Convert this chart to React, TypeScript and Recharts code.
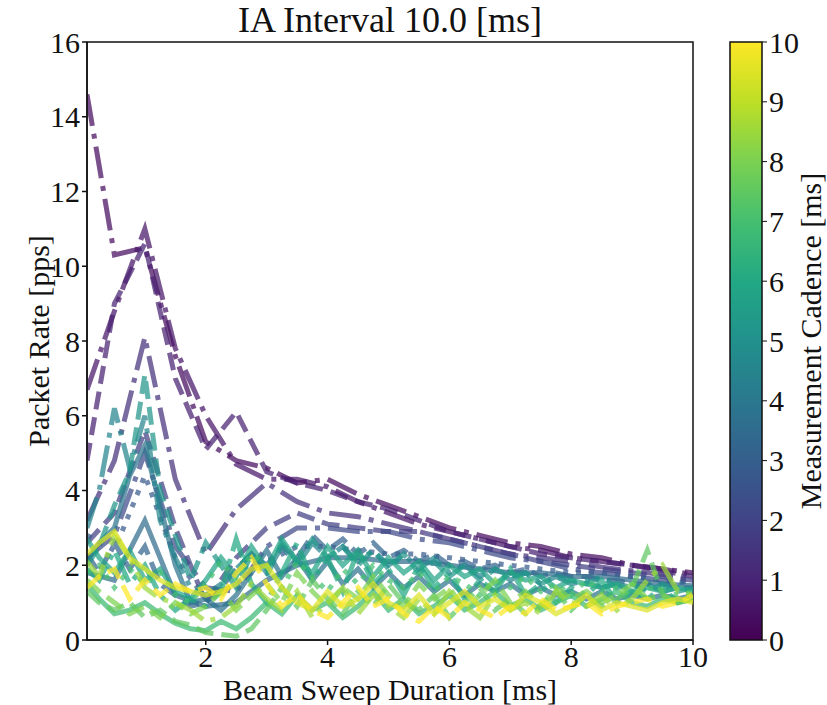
import React from 'react';
import { LineChart, Line, XAxis, YAxis, ReferenceArea, ComposedChart } from 'recharts';

// beam sweep durations (ms) - coarse grid for smooth series, fine grid for noisy ones
const X_COARSE = [0.05, 0.5, 1, 1.5, 2, 2.5, 3, 3.5, 4, 4.5, 5, 5.5, 6, 6.5, 7, 7.5, 8, 8.5, 9, 9.5, 10];
const X_FINE = [
  0.05, 0.25, 0.5, 0.75, 1, 1.25, 1.5, 1.75, 2, 2.25,
  2.5, 2.75, 3, 3.25, 3.5, 3.75, 4, 4.25, 4.5, 4.75,
  5, 5.25, 5.5, 5.75, 6, 6.25, 6.5, 6.75, 7, 7.25,
  7.5, 7.75, 8, 8.25, 8.5, 8.75, 9, 9.25, 9.5, 9.75,
  10,
];

const X_TICKS = [2, 4, 6, 8, 10];
const Y_TICKS = [0, 2, 4, 6, 8, 10, 12, 14, 16];
const CADENCE_TICKS = [0, 1, 2, 3, 4, 5, 6, 7, 8, 9, 10];
const CADENCE_RANGE = [0, 10];

// packet rate (pps) per measurement cadence
const rate_c03 = [14.6, 10.3, 10.5, 7.6, 5.3, 4.8, 4.6, 4.2, 4.3, 3.9, 3.6, 3.3, 3.0, 2.8, 2.6, 2.5, 2.3, 2.2, 2.0, 1.9, 1.8];
const rate_c06 = [6.7, 8.8, 11.0, 7.8, 6.0, 4.7, 4.3, 4.3, 4.1, 3.7, 3.4, 3.1, 2.9, 2.7, 2.5, 2.4, 2.2, 2.1, 2.0, 1.9, 1.75];
const rate_c09 = [4.8, 9.0, 10.6, 7.0, 5.1, 6.1, 4.5, 4.2, 4.0, 3.7, 3.5, 3.2, 2.9, 2.7, 2.5, 2.3, 2.2, 2.1, 2.0, 1.85, 1.7];
const rate_c14 = [3.2, 4.8, 8.1, 4.3, 2.3, 3.5, 4.2, 3.7, 3.4, 3.3, 3.1, 2.9, 2.7, 2.5, 2.3, 2.2, 2.1, 1.95, 1.85, 1.75, 1.65];
const rate_c18 = [2.6, 3.4, 5.6, 3.0, 1.0, 2.2, 3.0, 3.4, 3.1, 3.0, 2.9, 2.9, 2.7, 2.5, 2.3, 2.1, 2.0, 1.9, 1.8, 1.7, 1.6];
const rate_c22 = [2.2, 2.8, 5.0, 2.5, 1.4, 1.3, 2.5, 3.0, 3.0, 2.9, 2.9, 2.7, 2.6, 2.4, 2.2, 2.1, 1.9, 1.8, 1.7, 1.6, 1.55];
const rate_c28 = [2.8, 2.4, 4.4, 2.2, 1.1, 1.5, 2.1, 2.5, 2.5, 2.4, 2.3, 2.3, 2.2, 2.1, 2.0, 1.9, 1.8, 1.8, 1.7, 1.6, 1.5];
const rate_c35 = [1.8, 1.6, 3.2, 1.2, 0.9, 1.0, 1.6, 2.0, 2.2, 2.2, 2.1, 2.1, 2.0, 1.9, 1.8, 1.8, 1.7, 1.7, 1.6, 1.5, 1.45];

const rate_c32 = [
  2.3, 1.8, 2.6, 1.9, 2.5, 1.5, 1.2, 0.9, 1.0, 1.4,
  1.9, 2.3, 2.0, 2.5, 2.2, 2.8, 2.4, 2.7, 2.3, 2.6,
  2.2, 2.4, 2.1, 2.3, 2.0, 2.1, 1.9, 2.0, 1.8, 1.9,
  1.7, 1.8, 1.7, 1.7, 1.6, 1.6, 1.5, 1.5, 1.5, 1.4,
  1.4,
];
const rate_c38 = [
  2.1, 2.6, 3.0, 4.4, 5.2, 3.6, 2.0, 1.0, 1.1, 0.8,
  1.2, 1.8, 2.4, 1.7, 2.2, 1.6, 2.1, 1.5, 1.9, 1.4,
  1.8, 1.4, 1.7, 1.3, 1.6, 1.2, 1.5, 1.3, 1.5, 1.2,
  1.4, 1.2, 1.3, 1.1, 1.3, 1.1, 1.2, 1.1, 1.2, 1.1,
  1.2,
];
const rate_c45 = [
  3.0, 4.0, 6.2, 4.6, 6.0, 3.2, 2.2, 1.4, 1.2, 1.5,
  1.9, 2.3, 1.8, 2.5, 2.0, 2.6, 2.2, 2.5, 2.1, 2.4,
  2.0, 2.3, 1.9, 2.2, 1.8, 2.0, 1.7, 1.9, 1.6, 1.8,
  1.5, 1.7, 1.5, 1.6, 1.4, 1.5, 1.4, 1.5, 1.3, 1.4,
  1.3,
];
const rate_c52 = [
  2.0, 2.5, 3.6, 4.5, 7.1, 4.0, 2.8, 1.6, 2.6, 2.0,
  1.4, 2.3, 1.7, 2.6, 2.1, 2.7, 2.2, 2.5, 2.0, 2.4,
  1.9, 2.3, 1.8, 2.1, 1.7, 2.0, 1.6, 1.9, 1.7, 1.8,
  1.5, 1.7, 1.6, 1.5, 1.7, 1.4, 1.5, 1.3, 1.5, 1.3,
  1.4,
];
const rate_c58 = [
  2.7, 2.2, 1.8, 2.4, 1.6, 1.9, 1.3, 1.1, 1.6, 2.2,
  1.7, 2.5, 1.9, 2.7, 2.1, 1.8, 2.5, 2.0, 2.4, 1.7,
  2.2, 1.8, 2.1, 1.6, 2.0, 1.7, 1.9, 1.5, 1.8, 1.6,
  1.7, 1.4, 1.6, 1.5, 1.4, 1.5, 1.3, 1.4, 1.3, 1.4,
  1.3,
];
const rate_c60 = [
  1.9, 1.6, 2.4, 1.5, 2.0, 1.2, 0.8, 1.1, 0.9, 1.3,
  2.7, 1.5, 1.0, 1.8, 2.6, 1.6, 2.2, 1.3, 2.4, 1.5,
  1.9, 1.2, 2.0, 1.4, 1.8, 1.1, 1.6, 1.3, 1.9, 1.2,
  1.5, 1.0, 1.4, 1.2, 1.6, 1.0, 1.3, 1.1, 1.4, 1.0,
  1.2,
];
const rate_c68 = [
  1.5, 1.1, 0.7, 0.8, 1.0, 0.7, 0.45, 0.3, 0.25, 0.5,
  0.3, 0.6, 1.0, 0.7, 1.2, 0.8, 1.0, 0.6, 0.9, 1.3,
  0.8, 1.1, 0.7, 0.9, 1.2, 0.8, 1.0, 1.3, 0.9, 1.1,
  0.8, 1.0, 1.2, 0.9, 1.1, 1.3, 1.0, 0.9, 1.1, 1.0,
  1.1,
];
const rate_c70 = [
  1.8, 2.0, 1.4, 1.9, 1.5, 1.8, 1.2, 1.0, 1.5, 2.1,
  1.6, 2.3, 2.0, 1.4, 2.1, 1.7, 1.3, 1.9, 1.5, 2.0,
  1.6, 1.4, 1.8, 1.3, 1.7, 1.5, 1.2, 1.6, 1.4, 1.7,
  1.3, 1.5, 1.2, 1.6, 1.3, 1.4, 1.2, 1.4, 1.3, 1.2,
  1.3,
];
const rate_c75 = [
  1.3, 1.0, 0.8, 1.0, 0.6, 0.8, 0.5, 0.4, 0.2, 0.15,
  0.1, 0.3, 0.8, 1.4, 0.9, 1.6, 1.1, 0.7, 1.3, 0.9,
  1.5, 1.0, 0.8, 1.2, 0.6, 1.0, 1.4, 0.8, 1.1, 0.7,
  0.9, 1.3, 0.8, 1.2, 0.9, 1.1, 1.4, 2.4, 1.2, 1.0,
  1.1,
];
const rate_c80 = [
  1.6, 1.3, 1.0, 0.7, 0.9, 0.6, 1.0, 0.7, 0.9, 1.3,
  0.8, 1.2, 1.5, 1.0, 1.8, 1.3, 0.9, 1.4, 1.1, 1.7,
  1.2, 0.9, 1.5, 1.1, 1.4, 0.8, 1.2, 1.6, 1.0, 1.3,
  0.9, 1.4, 1.1, 1.3, 1.0, 1.2, 1.5, 1.1, 1.2, 1.0,
  1.1,
];
const rate_c85 = [
  2.1, 1.7, 2.8, 2.2, 1.4, 1.1, 1.0, 0.8, 0.5, 0.6,
  0.9, 1.5, 1.1, 0.8, 1.3, 0.6, 1.0, 1.4, 0.7, 1.2,
  0.9, 0.6, 1.1, 0.7, 1.3, 0.9, 0.6, 1.2, 0.8, 1.0,
  0.7, 1.3, 1.0, 0.9, 1.2, 0.8, 1.1, 1.6, 2.0, 1.3,
  1.2,
];
const rate_c95 = [
  2.3, 2.6, 2.9, 2.2, 1.9, 1.6, 1.4, 1.3, 1.2, 1.3,
  1.5, 1.9, 2.0, 1.4, 1.0, 0.8, 1.3, 0.9, 1.1, 1.5,
  1.0, 0.8, 1.2, 0.7, 1.0, 1.3, 0.9, 1.1, 0.8, 1.2,
  1.0, 0.7, 0.9, 1.2, 0.8, 1.0, 0.9, 0.8, 1.0, 1.1,
  1.0,
];
const rate_c100 = [
  1.4, 1.7, 1.9, 1.1, 1.6, 1.2, 1.5, 1.3, 1.4, 1.1,
  1.8, 2.2, 1.5, 0.9, 1.2, 0.8, 0.6, 1.0, 1.4, 0.9,
  1.1, 0.7, 0.5, 0.9, 0.6, 1.0, 0.8, 0.6, 0.9, 0.7,
  1.1, 0.8, 0.9, 1.0, 0.7, 0.9, 1.0, 1.1, 0.9, 1.0,
  1.2,
];

// cadence (ms) of every series, in drawing order
const SERIES = [
  { cadence: 0.3, xs: X_COARSE, rate: rate_c03 },
  { cadence: 0.6, xs: X_COARSE, rate: rate_c06 },
  { cadence: 0.9, xs: X_COARSE, rate: rate_c09 },
  { cadence: 1.4, xs: X_COARSE, rate: rate_c14 },
  { cadence: 1.8, xs: X_COARSE, rate: rate_c18 },
  { cadence: 2.2, xs: X_COARSE, rate: rate_c22 },
  { cadence: 2.8, xs: X_COARSE, rate: rate_c28 },
  { cadence: 3.2, xs: X_FINE, rate: rate_c32 },
  { cadence: 3.5, xs: X_COARSE, rate: rate_c35 },
  { cadence: 3.8, xs: X_FINE, rate: rate_c38 },
  { cadence: 4.5, xs: X_FINE, rate: rate_c45 },
  { cadence: 5.2, xs: X_FINE, rate: rate_c52 },
  { cadence: 5.8, xs: X_FINE, rate: rate_c58 },
  { cadence: 6.0, xs: X_FINE, rate: rate_c60 },
  { cadence: 6.8, xs: X_FINE, rate: rate_c68 },
  { cadence: 7.0, xs: X_FINE, rate: rate_c70 },
  { cadence: 7.5, xs: X_FINE, rate: rate_c75 },
  { cadence: 8.0, xs: X_FINE, rate: rate_c80 },
  { cadence: 8.5, xs: X_FINE, rate: rate_c85 },
  { cadence: 9.5, xs: X_FINE, rate: rate_c95 },
  { cadence: 10.0, xs: X_FINE, rate: rate_c100 },
];

// line style per series (same order as SERIES)
const LINE_STYLE = ['-.', '-.', '--', '-.', '--', '-.', ':', '--', '-', '-', '-.', '--', '-', '-.', '-', ':', '--', '--', '-.', '-', '--'];

const DASH: Record<string, string | undefined> = {
  '-': undefined,
  '--': '18 8',
  '-.': '32 8 5 8',
  ':': '5 8',
};

const VIRIDIS = ['#440154', '#482475', '#414487', '#355f8d', '#2a788e', '#21918c', '#22a884', '#44bf70', '#7ad151', '#bddf26', '#fde725'];

function hexToRgb(h: string) {
  const n = parseInt(h.slice(1), 16);
  return [(n >> 16) & 255, (n >> 8) & 255, n & 255];
}

function viridis(t: number) {
  const c = Math.max(0, Math.min(1, t)) * (VIRIDIS.length - 1);
  const i = Math.min(Math.floor(c), VIRIDIS.length - 2);
  const f = c - i;
  const a = hexToRgb(VIRIDIS[i]);
  const b = hexToRgb(VIRIDIS[i + 1]);
  const m = a.map((v, k) => Math.round(v + (b[k] - v) * f));
  return `rgb(${m[0]},${m[1]},${m[2]})`;
}

const FONT = '"Liberation Serif", "Times New Roman", serif';
const TICK = { fontSize: 30, fill: '#111', fontFamily: FONT };

// plot box
const W = 827;
const H = 705;
const PLOT_L = 87;
const PLOT_R = 693;
const PLOT_T = 42;
const PLOT_B = 640;
const CB_L = 730;
const CB_R = 762;

const XLabel = () => (
  <text x={(PLOT_L + PLOT_R) / 2} y={700} textAnchor="middle" fontSize={30} fontFamily={FONT} fill="#111">
    Beam Sweep Duration [ms]
  </text>
);

const YLabel = () => {
  const cx = 38;
  const cy = (PLOT_T + PLOT_B) / 2;
  return (
    <text x={cx} y={cy} transform={`rotate(-90 ${cx} ${cy})`} textAnchor="middle" dominantBaseline="central" fontSize={30} fontFamily={FONT} fill="#111">
      Packet Rate [pps]
    </text>
  );
};

const CbLabel = () => {
  const cx = 810;
  const cy = (PLOT_T + PLOT_B) / 2;
  return (
    <text x={cx} y={cy} transform={`rotate(-90 ${cx} ${cy})`} textAnchor="middle" dominantBaseline="central" fontSize={30} fontFamily={FONT} fill="#111">
      Measurement Cadence [ms]
    </text>
  );
};

export default function App() {
  const series = SERIES.map((s, i) => ({
    key: `s${i}`,
    color: viridis(s.cadence / 10),
    dash: DASH[LINE_STYLE[i]],
    data: s.xs.map((x, j) => ({ x, y: s.rate[j] })),
  }));

  // two invisible points so the colorbar axes get their extent
  const cbData = [
    { x: 0, v: CADENCE_RANGE[0] },
    { x: 1, v: CADENCE_RANGE[1] },
  ];

  return (
    <div style={{ position: 'absolute', left: 0, top: 0, width: W, height: H, background: '#fff' }}>
      <svg width={0} height={0} style={{ position: 'absolute' }}>
        <defs>
          <linearGradient id="viridisGrad" x1="0" y1="1" x2="0" y2="0">
            {VIRIDIS.map((c, i) => (
              <stop key={i} offset={`${(i / (VIRIDIS.length - 1)) * 100}%`} stopColor={c} />
            ))}
          </linearGradient>
        </defs>
      </svg>

      <div style={{ position: 'absolute', left: PLOT_L, width: PLOT_R - PLOT_L, top: 0, textAlign: 'center', fontFamily: FONT, fontSize: 36, color: '#111', lineHeight: '40px' }}>
        IA Interval 10.0 [ms]
      </div>

      <div style={{ position: 'absolute', left: 0, top: 0 }}>
        <LineChart width={PLOT_R + 20} height={H} margin={{ top: PLOT_T, right: 20, bottom: 0, left: 0 }}>
          <XAxis
            dataKey="x"
            type="number"
            domain={[0.05, 10]}
            ticks={X_TICKS}
            allowDataOverflow
            height={H - PLOT_B}
            tick={TICK}
            tickSize={5}
            tickMargin={1}
            stroke="#111"
            strokeWidth={1.5}
            label={<XLabel />}
          />
          <YAxis
            type="number"
            domain={[0, 16]}
            ticks={Y_TICKS}
            allowDataOverflow
            width={PLOT_L}
            tick={TICK}
            tickSize={5}
            tickMargin={2}
            stroke="#111"
            strokeWidth={1.5}
            label={<YLabel />}
          />
          <ReferenceArea x1={0.05} x2={10} y1={0} y2={16} fill="none" stroke="#111" strokeWidth={1.5} ifOverflow="visible" />
          {series.map((s) => (
            <Line
              key={s.key}
              data={s.data}
              dataKey="y"
              type="linear"
              stroke={s.color}
              strokeWidth={5}
              strokeOpacity={0.72}
              strokeDasharray={s.dash}
              strokeLinecap="butt"
              strokeLinejoin="miter"
              dot={false}
              activeDot={false}
              isAnimationActive={false}
            />
          ))}
        </LineChart>
      </div>

      <div style={{ position: 'absolute', left: 0, top: 0 }}>
        <ComposedChart
          width={W}
          height={H}
          data={cbData}
          margin={{ top: PLOT_T, right: 0, bottom: H - PLOT_B, left: CB_L }}
        >
          <XAxis dataKey="x" type="number" domain={[0, 1]} hide />
          <YAxis
            orientation="right"
            type="number"
            domain={CADENCE_RANGE}
            ticks={CADENCE_TICKS}
            width={W - CB_R}
            tick={TICK}
            tickSize={5}
            tickMargin={2}
            stroke="#111"
            axisLine={false}
            label={<CbLabel />}
          />
          <Line dataKey="v" stroke="none" dot={false} activeDot={false} isAnimationActive={false} />
          <ReferenceArea x1={0} x2={1} y1={0} y2={10} fill="url(#viridisGrad)" fillOpacity={1} stroke="#111" strokeWidth={1.5} ifOverflow="visible" />
        </ComposedChart>
      </div>
    </div>
  );
}
